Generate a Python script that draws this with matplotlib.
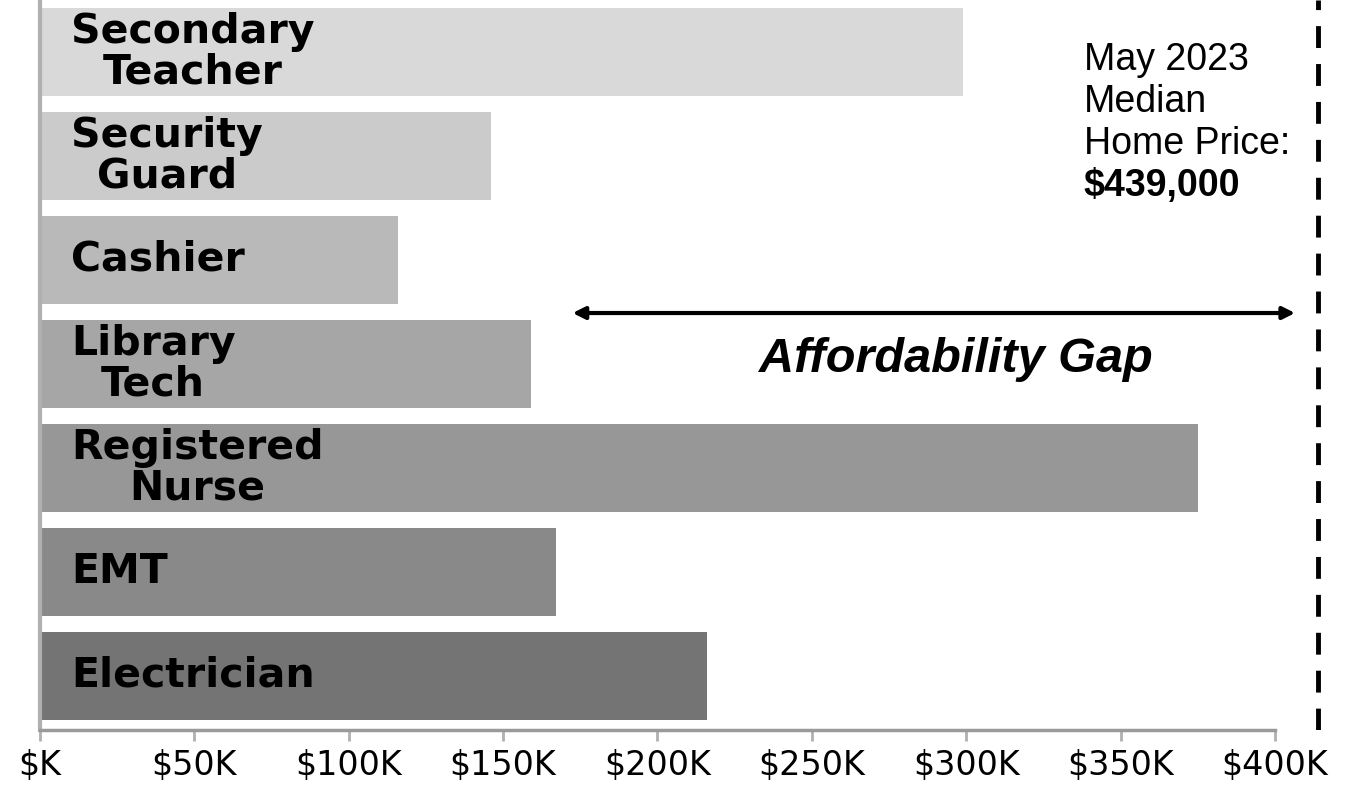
import matplotlib.pyplot as plt

# Data
jobs = ["Secondary\nTeacher", "Security\nGuard", "Cashier", "Library\nTech",
        "Registered\nNurse", "EMT", "Electrician"]
affordable_price = [299, 146, 116, 159, 375, 167, 216]   # $K
bar_colors = ["#d9d9d9", "#cbcbcb", "#b9b9b9", "#a6a6a6", "#979797", "#898989", "#747474"]
ticks = [0, 50, 100, 150, 200, 250, 300, 350, 400]
tick_labels = ["$K", "$50K", "$100K", "$150K", "$200K", "$250K", "$300K", "$350K", "$400K"]
note_lines = ["May 2023", "Median", "Home Price:", "$439,000"]
median_line = 414          # where the dashed marker sits on the axis
gap_start = 172.5

fig = plt.figure(figsize=(13.45, 7.93), dpi=100)
ax = fig.add_axes([0.0274, 0.0794, 0.9665, 0.9206])

y = list(range(len(jobs)))
ax.barh(y, affordable_price, height=0.84, color=bar_colors, zorder=2)

for yi, label in zip(y, jobs):
    ax.text(10, yi, label, ha="left", va="center", multialignment="center",
            fontsize=29.5, fontweight="bold", family="DejaVu Sans", color="black",
            linespacing=1.02, zorder=3)

ax.axvline(median_line, color="black", lw=3.5, ls=(0, (4.5, 3.3)), zorder=3)

ax.annotate("", xy=(406.5, 2.51), xytext=(gap_start, 2.51),
            arrowprops=dict(arrowstyle="<|-|>", color="black", lw=3,
                            mutation_scale=18, shrinkA=0, shrinkB=0))
ax.text(296.5, 2.96, "Affordability Gap", ha="center", va="center", fontsize=35,
        fontweight="bold", style="italic", family="Liberation Sans")

# note block on the right, one line at a time (~42 px apart)
for i, line in enumerate(note_lines):
    ax.text(338, 0.077 + 0.404 * i, line, ha="left", va="center", fontsize=27,
            family="Liberation Sans", fontweight="bold" if i == 3 else "normal")

ax.set_xlim(-1, 420)
ax.set_ylim(6.52, -0.5)
ax.set_xticks(ticks)
ax.set_xticklabels(tick_labels, fontsize=24, family="DejaVu Sans")
ax.set_yticks([])
ax.tick_params(axis="x", length=8, width=2, color="#b0b0b0", pad=6)
for s in ["top", "right"]:
    ax.spines[s].set_visible(False)
ax.spines["bottom"].set_bounds(0, 400)
ax.spines["bottom"].set_color("#9a9a9a")
ax.spines["bottom"].set_linewidth(2.5)
ax.spines["left"].set_color("#b0b0b0")
ax.spines["left"].set_linewidth(3)
ax.spines["left"].set_position(("data", 0))

fig.savefig("out.png", dpi=100)
